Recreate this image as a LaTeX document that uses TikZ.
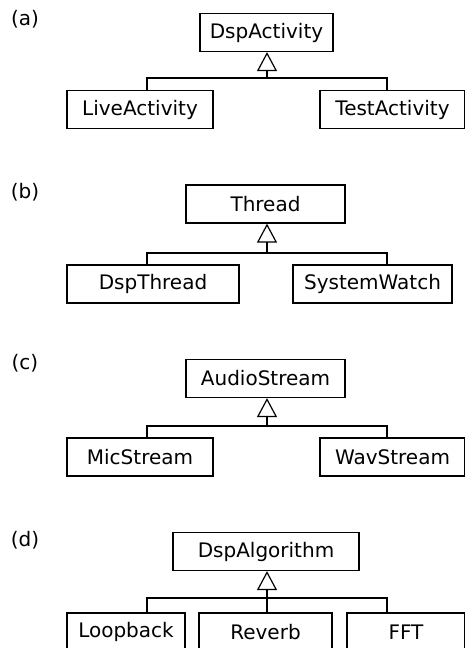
\documentclass[tikz,border=0pt]{standalone}
\usepackage{fontspec}
\setmainfont{DejaVu Sans}
\usetikzlibrary{arrows.meta}

\begin{document}
\begin{tikzpicture}[x=1pt,y=-1pt]
%define
\tikzstyle{cls} = [rectangle, minimum height=38pt, inner sep=0pt, text centered, draw=black, line width=1.2pt, font=\fontsize{20}{24}\selectfont]
\tikzstyle{tag} = [inner sep=0pt, font=\fontsize{20}{24}\selectfont]
\tikzstyle{line} = [line width=1.2pt]
\tikzstyle{inherit} = [line width=1.2pt, -{Triangle[open, width=20pt, length=19pt]}]

\useasboundingbox (0,0) rectangle (465,648);

%(a)
\node[tag](tag_a) at (25,19){(a)};
\node[cls, minimum width=133pt](DspActivity) at (266.5,32.5){DspActivity};
\node[cls, minimum width=146pt](LiveActivity) at (140,109.5){LiveActivity};
\node[cls, minimum width=145pt](TestActivity) at (392.5,109.5){TestActivity};
\coordinate (bar_a_left) at (147,78);
\coordinate (bar_a_mid) at (267,78);
\coordinate (bar_a_right) at (387,78);
\draw[line](bar_a_left |- LiveActivity.north) -- (bar_a_left) -- (bar_a_right) -- (bar_a_right |- TestActivity.north);
\draw[inherit](bar_a_mid) -- (bar_a_mid |- DspActivity.south);

%(b)
\node[tag](tag_b) at (25,192){(b)};
\node[cls, minimum width=159pt](Thread) at (265.5,204){Thread};
\node[cls, minimum width=172pt](DspThread) at (153,284){DspThread};
\node[cls, minimum width=159pt](SystemWatch) at (372.5,284){SystemWatch};
\coordinate (bar_b_left) at (147,253);
\coordinate (bar_b_mid) at (267,253);
\coordinate (bar_b_right) at (387,253);
\draw[line](bar_b_left |- DspThread.north) -- (bar_b_left) -- (bar_b_right) -- (bar_b_right |- SystemWatch.north);
\draw[inherit](bar_b_mid) -- (bar_b_mid |- Thread.south);

%(c)
\node[tag](tag_c) at (25,363){(c)};
\node[cls, minimum width=159pt](AudioStream) at (265.5,378.5){AudioStream};
\node[cls, minimum width=146pt](MicStream) at (140,457){MicStream};
\node[cls, minimum width=145pt](WavStream) at (392.5,457){WavStream};
\coordinate (bar_c_left) at (147,426);
\coordinate (bar_c_mid) at (267,426);
\coordinate (bar_c_right) at (387,426);
\draw[line](bar_c_left |- MicStream.north) -- (bar_c_left) -- (bar_c_right) -- (bar_c_right |- WavStream.north);
\draw[inherit](bar_c_mid) -- (bar_c_mid |- AudioStream.south);

%(d)
\node[tag](tag_d) at (25,540){(d)};
\node[cls, minimum width=186pt](DspAlgorithm) at (266,551.5){DspAlgorithm};
\node[cls, minimum width=118pt](Loopback) at (126,632){Loopback};
\node[cls, minimum width=133pt](Reverb) at (265.5,632){Reverb};
\node[cls, minimum width=118pt](FFT) at (406,632){FFT};
\coordinate (bar_d_left) at (147,598);
\coordinate (bar_d_mid) at (267,598);
\coordinate (bar_d_right) at (387,598);
\draw[line](bar_d_left |- Loopback.north) -- (bar_d_left) -- (bar_d_right) -- (bar_d_right |- FFT.north);
\draw[line](bar_d_mid |- Reverb.north) -- (bar_d_mid);
\draw[inherit](bar_d_mid) -- (bar_d_mid |- DspAlgorithm.south);

\end{tikzpicture}
\end{document}
